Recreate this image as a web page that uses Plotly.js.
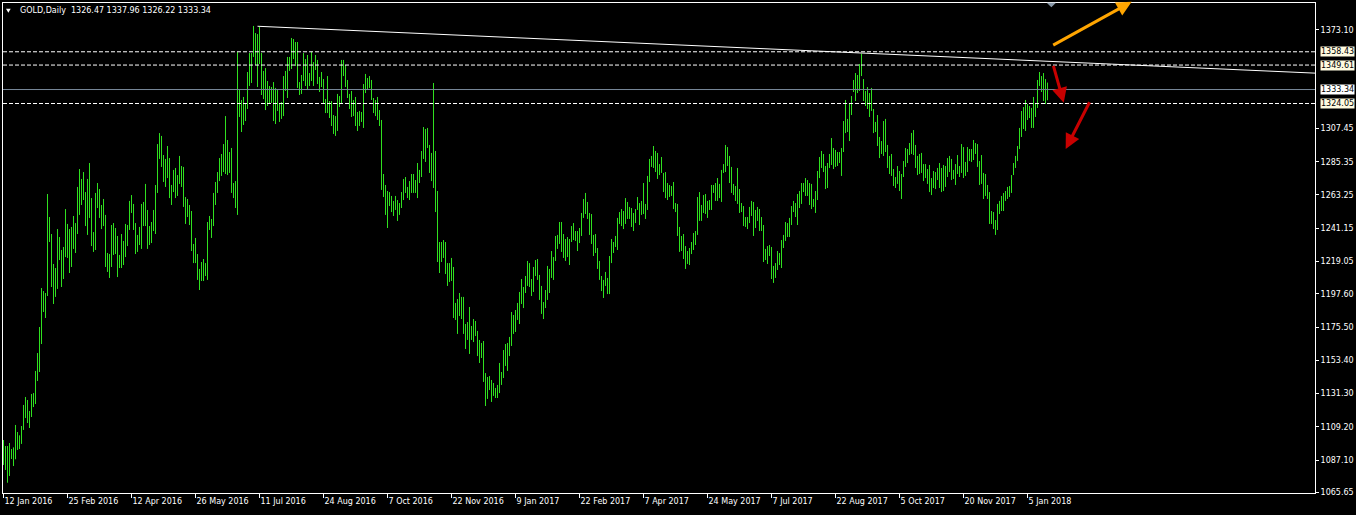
<!DOCTYPE html>
<html><head><meta charset="utf-8">
<script src="https://cdn.plot.ly/plotly-3.0.1.min.js"></script>
<style>html,body{margin:0;padding:0;background:#000;}#chart{width:1356px;height:515px;}</style>
</head><body><div id="chart"></div>
<script>
const symbolTitle = 'GOLD,Daily';
const lastOHLC = [1326.47, 1337.96, 1326.22, 1333.34];

const barHigh = [
1100.4,1096.4,1096.4,1098.4,1094.4,1095.5,1110.4,1105.7,1103.5,1109.7,
1123.7,1129.0,1127.0,1119.7,1131.0,1131.6,1146.3,1158.2,1175.5,1201.4,
1199.4,1198.1,1263.9,1248.6,1237.3,1217.4,1214.7,1240.6,1235.3,1226.7,
1228.7,1253.9,1244.0,1240.6,1242.0,1249.3,1244.6,1268.6,1280.5,1273.9,
1278.5,1265.2,1273.9,1284.5,1261.2,1238.6,1264.6,1271.2,1267.2,1256.6,
1260.6,1250.0,1224.7,1224.0,1243.3,1244.6,1241.3,1236.0,1223.4,1237.3,
1232.7,1244.0,1243.3,1259.3,1263.2,1257.3,1244.6,1236.7,1242.0,1257.3,
1258.6,1270.6,1253.3,1242.6,1245.3,1253.3,1269.9,1297.1,1304.4,1302.5,
1289.8,1287.2,1295.8,1287.8,1269.9,1279.9,1281.2,1276.5,1289.2,1282.5,
1281.9,1261.9,1260.6,1256.6,1252.6,1230.7,1234.7,1224.0,1214.1,1218.7,
1220.7,1218.0,1245.3,1249.3,1247.3,1264.6,1271.9,1278.5,1287.8,1290.5,
1297.1,1315.7,1299.8,1291.8,1294.5,1271.2,1272.5,1358.3,1333.0,1326.4,
1328.4,1324.4,1345.0,1357.6,1357.6,1375.6,1370.9,1370.2,1374.9,1357.6,
1345.7,1347.6,1339.0,1335.7,1335.0,1338.3,1334.4,1333.7,1324.4,1325.0,
1342.3,1345.7,1355.0,1355.0,1367.6,1366.9,1364.9,1364.9,1338.3,1343.0,
1357.6,1353.6,1356.3,1344.3,1358.3,1351.6,1356.3,1353.0,1341.7,1345.0,
1340.3,1327.0,1342.3,1325.7,1325.7,1316.4,1315.7,1330.4,1329.0,1353.0,
1353.0,1349.6,1339.7,1330.4,1332.4,1326.4,1328.4,1318.4,1319.1,1318.4,
1337.0,1343.7,1341.0,1342.3,1339.7,1327.7,1326.4,1328.4,1319.7,1313.1,
1277.2,1269.9,1265.9,1265.2,1262.6,1259.3,1262.6,1259.9,1257.9,1265.2,
1273.9,1275.2,1268.6,1272.5,1277.2,1277.2,1273.2,1284.5,1279.9,1292.5,
1308.4,1307.1,1307.8,1296.5,1291.2,1337.7,1292.5,1265.9,1232.0,1232.0,
1233.3,1232.0,1218.0,1218.0,1221.4,1215.4,1191.5,1194.1,1198.1,1195.5,
1195.5,1177.5,1178.8,1188.8,1176.2,1180.8,1179.5,1172.9,1166.9,1164.9,
1166.2,1144.9,1142.3,1142.9,1140.3,1138.3,1135.0,1137.0,1151.6,1145.6,
1160.2,1164.2,1164.9,1168.9,1185.5,1183.5,1186.8,1191.5,1198.8,1207.4,
1202.1,1209.4,1219.4,1218.0,1207.4,1215.4,1220.0,1220.7,1210.1,1202.8,
1192.1,1200.1,1216.1,1214.1,1226.0,1222.0,1236.0,1236.7,1245.3,1245.3,
1237.3,1234.0,1235.3,1234.0,1242.6,1244.6,1239.3,1239.3,1241.3,1251.3,
1260.6,1264.6,1258.6,1251.3,1250.6,1236.7,1237.3,1228.0,1219.4,1209.4,
1206.8,1212.1,1208.1,1222.7,1234.0,1232.0,1236.0,1248.0,1251.9,1253.9,
1252.6,1261.2,1258.6,1255.3,1254.6,1251.3,1253.9,1261.9,1257.9,1259.3,
1271.2,1257.3,1275.9,1287.2,1289.2,1295.8,1292.5,1291.2,1283.8,1288.5,
1277.9,1278.5,1271.2,1269.9,1269.2,1271.9,1257.9,1257.3,1242.0,1236.0,
1237.3,1229.3,1226.0,1228.0,1232.0,1238.0,1239.3,1261.9,1265.2,1256.6,
1263.2,1263.9,1259.3,1259.9,1269.9,1269.9,1271.2,1274.5,1270.6,1279.9,
1283.8,1296.5,1295.1,1289.2,1281.9,1270.6,1269.2,1281.2,1267.2,1257.9,
1255.9,1248.6,1248.6,1255.3,1259.3,1258.6,1253.3,1255.3,1253.9,1248.6,
1243.3,1227.4,1229.3,1230.0,1228.7,1216.1,1218.0,1226.0,1224.7,1233.3,
1236.7,1245.3,1244.6,1248.0,1255.9,1259.3,1257.9,1263.9,1265.9,1271.2,
1271.2,1274.5,1273.2,1271.2,1270.6,1260.6,1265.9,1279.2,1288.5,1292.5,
1290.5,1282.5,1284.5,1290.5,1301.1,1294.5,1293.2,1291.8,1291.8,1294.5,
1312.4,1326.4,1313.8,1324.4,1329.0,1339.7,1344.3,1343.0,1350.3,1357.2,
1340.3,1332.4,1335.0,1331.0,1334.4,1320.4,1311.8,1316.4,1301.8,1299.1,
1312.4,1313.8,1296.5,1289.2,1290.5,1280.5,1275.2,1282.5,1279.2,1277.2,
1285.8,1294.5,1293.8,1297.8,1304.5,1306.4,1296.5,1289.2,1290.5,1291.2,
1283.8,1283.8,1280.5,1283.2,1274.5,1279.2,1278.5,1281.2,1284.5,1281.2,
1283.2,1282.5,1287.8,1289.2,1287.2,1279.9,1283.8,1289.8,1282.5,1297.1,
1295.1,1285.2,1295.1,1293.8,1293.8,1299.8,1297.8,1297.1,1285.8,1289.8,
1277.9,1277.2,1269.9,1265.2,1252.6,1251.9,1246.6,1257.3,1259.3,1262.6,
1264.6,1265.9,1268.6,1269.2,1276.5,1284.5,1289.2,1295.8,1307.8,1319.1,
1321.7,1326.4,1323.7,1322.4,1321.1,1328.4,1324.4,1339.7,1345.0,1342.3,
1344.3,1340.3,1337.96
];

const barLow = [
1083.8,1080.5,1072.0,1076.5,1087.8,1083.1,1087.6,1093.8,1094.4,1097.8,
1107.1,1115.0,1111.7,1108.4,1115.7,1122.3,1124.3,1139.6,1145.6,1164.2,
1185.5,1181.5,1196.1,1232.0,1202.1,1190.8,1195.5,1200.8,1220.0,1202.1,
1207.4,1222.0,1221.4,1211.4,1215.4,1227.4,1224.7,1237.3,1250.0,1256.6,
1259.9,1242.6,1236.7,1248.0,1229.3,1225.4,1226.7,1254.6,1248.0,1240.6,
1242.6,1215.4,1212.1,1208.1,1215.4,1223.4,1224.0,1208.7,1214.7,1214.7,
1216.7,1222.0,1229.3,1240.0,1251.3,1240.0,1224.0,1225.4,1230.0,1227.4,
1242.6,1242.6,1227.4,1230.0,1231.3,1239.3,1237.3,1264.6,1287.2,1281.9,
1271.9,1268.6,1274.5,1261.2,1256.6,1265.2,1261.2,1262.6,1270.6,1268.6,
1255.3,1244.0,1248.6,1243.3,1226.0,1218.0,1218.0,1206.8,1200.1,1206.1,
1206.1,1209.4,1206.8,1240.0,1234.7,1242.6,1256.6,1264.6,1272.5,1275.9,
1278.5,1277.2,1276.5,1277.9,1264.6,1261.2,1254.6,1250.0,1315.1,1305.1,
1309.8,1312.4,1320.4,1335.7,1337.7,1355.0,1349.6,1335.0,1350.3,1329.7,
1327.0,1319.7,1322.4,1323.7,1324.4,1312.4,1310.4,1319.1,1311.8,1313.8,
1315.7,1332.4,1327.7,1345.7,1347.0,1353.6,1349.0,1334.4,1329.7,1330.4,
1339.0,1335.7,1333.0,1335.7,1339.0,1335.7,1346.3,1337.0,1331.7,1335.0,
1323.7,1317.7,1317.7,1314.4,1309.1,1303.8,1302.5,1305.8,1321.7,1324.4,
1342.3,1335.0,1327.7,1320.4,1315.1,1315.7,1309.1,1305.8,1309.1,1311.8,
1307.8,1331.0,1333.0,1334.4,1326.4,1317.7,1315.7,1313.1,1309.1,1266.6,
1261.9,1250.0,1241.3,1255.9,1251.9,1249.3,1253.3,1246.0,1250.0,1254.6,
1259.9,1264.6,1261.2,1259.9,1264.6,1264.6,1264.6,1261.2,1271.2,1275.2,
1287.2,1285.2,1294.5,1277.9,1272.5,1267.9,1251.9,1218.7,1211.4,1218.7,
1221.4,1210.7,1202.8,1205.4,1206.1,1181.5,1180.2,1170.9,1182.8,1180.8,
1170.9,1160.9,1166.9,1157.6,1166.9,1165.5,1169.5,1156.2,1151.6,1154.9,
1139.0,1123.0,1127.7,1133.6,1125.7,1129.7,1128.3,1128.3,1131.6,1137.0,
1141.6,1149.6,1146.3,1156.2,1162.9,1170.9,1172.2,1180.2,1177.5,1190.8,
1188.1,1198.1,1202.8,1202.1,1196.1,1198.8,1209.4,1206.8,1193.5,1184.2,
1180.8,1188.1,1193.5,1198.1,1208.1,1206.8,1219.4,1227.4,1230.7,1225.4,
1221.4,1219.4,1222.0,1216.7,1232.0,1233.3,1232.7,1226.0,1231.3,1236.0,
1248.0,1250.6,1247.3,1236.7,1230.7,1222.7,1224.7,1214.1,1206.8,1199.4,
1194.8,1202.8,1197.4,1197.4,1218.0,1224.7,1228.7,1226.7,1244.0,1242.6,
1240.6,1244.0,1247.3,1247.3,1242.0,1239.3,1244.6,1253.3,1243.3,1250.0,
1250.6,1247.3,1253.3,1271.9,1281.9,1281.2,1278.5,1273.9,1276.5,1277.9,
1265.2,1261.2,1259.9,1261.9,1262.6,1253.9,1251.9,1236.0,1225.4,1226.0,
1220.7,1214.1,1217.4,1216.7,1224.0,1226.7,1230.0,1236.7,1246.0,1246.0,
1251.3,1250.6,1248.0,1253.3,1253.3,1264.6,1259.3,1259.3,1261.2,1258.6,
1277.9,1278.5,1282.5,1271.2,1264.6,1263.2,1259.3,1257.3,1251.3,1251.9,
1242.6,1242.0,1240.6,1244.6,1249.3,1236.0,1241.3,1246.0,1239.3,1239.3,
1218.7,1220.0,1217.4,1222.7,1207.4,1204.8,1208.1,1213.4,1216.7,1214.7,
1228.0,1232.7,1235.3,1235.3,1243.3,1251.9,1248.6,1243.3,1254.6,1257.3,
1265.2,1262.6,1262.6,1256.6,1253.9,1255.3,1251.3,1259.9,1274.5,1281.2,
1278.5,1267.2,1267.9,1281.2,1283.2,1280.5,1281.9,1282.5,1284.5,1275.9,
1291.8,1304.4,1305.1,1299.1,1316.4,1331.7,1325.7,1331.0,1332.4,1342.3,
1325.7,1322.4,1320.4,1315.1,1319.1,1304.4,1305.1,1295.8,1287.8,1290.5,
1289.2,1291.8,1281.2,1277.2,1275.9,1269.2,1267.9,1270.6,1265.9,1260.6,
1275.2,1281.9,1284.5,1289.8,1290.5,1289.8,1281.2,1276.5,1277.2,1277.9,
1272.5,1274.5,1270.6,1265.2,1263.2,1267.9,1267.2,1273.2,1267.9,1265.2,
1265.9,1268.6,1275.2,1278.5,1273.2,1273.9,1269.9,1277.2,1275.2,1277.9,
1274.5,1275.9,1278.5,1285.8,1285.2,1286.5,1290.5,1281.9,1269.9,1270.6,
1260.6,1262.6,1260.6,1244.0,1244.0,1240.6,1236.7,1240.0,1250.6,1252.6,
1252.6,1259.3,1260.6,1261.9,1264.6,1276.5,1281.2,1285.8,1293.8,1301.8,
1307.1,1305.8,1313.1,1314.4,1307.8,1307.8,1315.1,1321.1,1335.7,1331.7,
1325.7,1323.7,1326.22
];

const dateTickBars = [0,32,64,96,128,160,192,224,256,288,320,352,384,416,448,480,512];
const dateTickLabels = ['12 Jan 2016','25 Feb 2016','12 Apr 2016','26 May 2016','11 Jul 2016',
  '24 Aug 2016','7 Oct 2016','22 Nov 2016','9 Jan 2017','22 Feb 2017','7 Apr 2017',
  '24 May 2017','7 Jul 2017','22 Aug 2017','5 Oct 2017','20 Nov 2017','5 Jan 2018'];
const priceTicks = [1373.10,1307.45,1285.35,1263.25,1241.15,1219.05,1197.60,1175.50,1153.40,1131.30,1109.20,1087.10,1065.65];
const levelPrices = [1358.43, 1349.61, 1324.05];
const bidPrice = 1333.34;
const trendBars = [127, 429];
const trendPrices = [1375.4, 1357.6];

const BAR_COLOR = '#2fe01f';
const FONT = 'DejaVu Sans, Verdana, sans-serif';
const X_RANGE = [-0.25, 655.75];
const Y_RANGE = [1065.18, 1390.85];

// bars: one vertical high-low segment per bar
const bx = [], by = [];
for (let i = 0; i < barHigh.length; i++) {
  bx.push(i, i, null);
  by.push(barLow[i], barHigh[i], null);
}
const bars = {
  type: 'scatter', mode: 'lines', x: bx, y: by,
  line: {color: BAR_COLOR, width: 1}, hoverinfo: 'skip', connectgaps: false
};

// trend line as a ray to the right edge
const slope = (trendPrices[1] - trendPrices[0]) / (trendBars[1] - trendBars[0]);
const trendEndY = trendPrices[0] + slope * (X_RANGE[1] - trendBars[0]);

const shapes = [];
levelPrices.forEach(p => shapes.push({
  type: 'line', xref: 'paper', x0: 0, x1: 1, yref: 'y', y0: p, y1: p,
  line: {color: '#ffffff', width: 1, dash: '4px,2px'}
}));
shapes.push({type: 'line', xref: 'paper', x0: 0, x1: 1, yref: 'y', y0: bidPrice, y1: bidPrice,
  line: {color: '#778899', width: 1}});
shapes.push({type: 'line', xref: 'x', yref: 'y', x0: trendBars[0], y0: trendPrices[0],
  x1: X_RANGE[1], y1: trendEndY, line: {color: '#ffffff', width: 1}});
// title triangle and chart-shift marker
shapes.push({type: 'path', xref: 'paper', yref: 'paper',
  path: 'M 0.00229 0.98837 L 0.00587 0.98837 L 0.00408 0.98020 Z',
  fillcolor: '#ffffff', line: {width: 0}});
shapes.push({type: 'path', xref: 'paper', yref: 'paper',
  path: 'M 0.79550 1.00061 L 0.80259 1.00061 L 0.79905 0.99122 Z',
  fillcolor: '#8898a8', line: {width: 0}});

const annotations = [];
annotations.push({
  xref: 'paper', yref: 'paper', x: 0.01143, y: 0.98429, xanchor: 'left', yanchor: 'middle',
  showarrow: false, text: symbolTitle + '\u00a0\u00a0' + lastOHLC.map(v => v.toFixed(2)).join(' '),
  font: {family: FONT, size: 8, color: '#ffffff'}
});
levelPrices.forEach(p => annotations.push({
  xref: 'paper', yref: 'y', x: 1, y: p, xanchor: 'left', yanchor: 'middle', xshift: 5,
  showarrow: false, text: p.toFixed(2), bgcolor: '#fffbe0', borderpad: 0,
  font: {family: FONT, size: 8, color: '#000000'}
}));
annotations.push({
  xref: 'paper', yref: 'y', x: 1, y: bidPrice, xanchor: 'left', yanchor: 'middle', xshift: 5,
  showarrow: false, text: bidPrice.toFixed(2), bgcolor: '#ffffff', borderpad: 0,
  font: {family: FONT, size: 8, color: '#000000'}
});
// arrows drawn on the chart
const arrows = [
  {x: 0.86029, y: 1.00265, ax: -80, ay: 44.3, color: '#ffa500'},
  {x: 0.80846, y: 0.79653, ax: -10.7, ay: -38.4, color: '#c80000'},
  {x: 0.80999, y: 0.70204, ax: 24.6, ay: -48.3, color: '#c80000'}
];
arrows.forEach(a => annotations.push({
  xref: 'paper', yref: 'paper', x: a.x, y: a.y, ax: a.ax, ay: a.ay, text: '',
  showarrow: true, arrowhead: 2, arrowsize: 1, arrowwidth: 3, arrowcolor: a.color
}));

const layout = {
  width: 1356, height: 515,
  margin: {l: 3, r: 41, t: 3, b: 22, pad: 0},
  paper_bgcolor: '#000000', plot_bgcolor: '#000000',
  showlegend: false,
  font: {family: FONT, size: 8, color: '#ffffff'},
  xaxis: {
    range: X_RANGE, type: 'linear', tickmode: 'array', tickvals: dateTickBars, ticktext: dateTickLabels,
    ticks: 'outside', ticklen: 4, tickcolor: '#ffffff', tickwidth: 1,
    ticklabelposition: 'outside right',
    showgrid: false, zeroline: false, showline: true, mirror: true, linecolor: '#ffffff', linewidth: 1,
    tickfont: {family: FONT, size: 8, color: '#ffffff'}, automargin: false, fixedrange: true
  },
  yaxis: {
    range: Y_RANGE, side: 'right', tickmode: 'array', tickvals: priceTicks,
    ticktext: priceTicks.map(v => v.toFixed(2)),
    ticks: 'outside', ticklen: 3, tickcolor: '#ffffff', tickwidth: 1,
    showgrid: false, zeroline: false, showline: true, mirror: true, linecolor: '#ffffff', linewidth: 1,
    tickfont: {family: FONT, size: 8, color: '#ffffff'}, automargin: false, fixedrange: true
  },
  shapes: shapes,
  annotations: annotations
};

Plotly.newPlot('chart', [bars], layout, {displayModeBar: false, staticPlot: true});
</script>
</body></html>
